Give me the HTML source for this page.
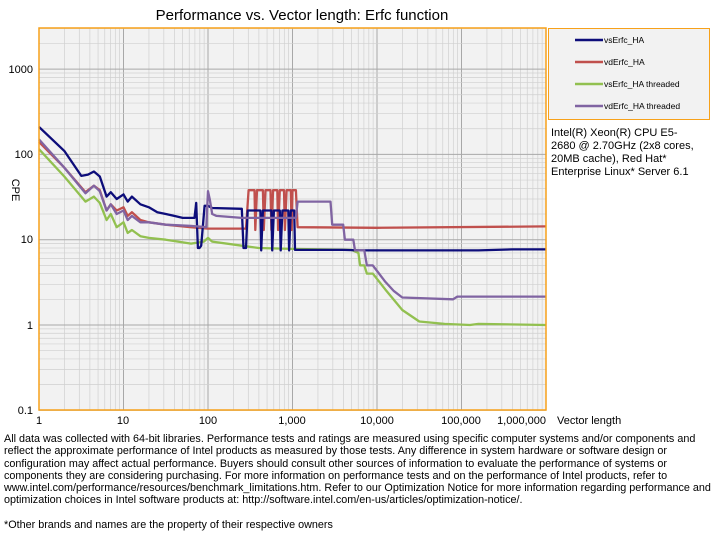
<!DOCTYPE html>
<html><head><meta charset="utf-8"><style>
body{margin:0;background:#fff;width:712px;height:546px;overflow:hidden;font-family:"Liberation Sans",sans-serif}
.foot{position:absolute;left:4px;top:433px;font-size:10.8px;line-height:12.3px;color:#000;width:712px;white-space:nowrap}
</style></head><body>
<svg width="712" height="546" style="position:absolute;left:0;top:0" font-family="Liberation Sans, sans-serif">
<text x="302" y="20" font-size="15" text-anchor="middle">Performance vs. Vector length: Erfc function</text>
<rect x="39" y="28" width="507" height="382" fill="#f2f2f2"/>
<g id="grid"></g>
<g id="series" fill="none" stroke-width="2.3" stroke-linejoin="round"></g>
<rect x="39" y="28" width="507" height="382" fill="none" stroke="#f7a11a" stroke-width="1.5"/>
<g font-size="11" text-anchor="end">
<text x="33" y="73">1000</text><text x="33" y="158">100</text><text x="33" y="243">10</text><text x="33" y="329">1</text><text x="33" y="414">0.1</text>
</g>
<g font-size="11" text-anchor="middle">
<text x="39" y="424">1</text><text x="123" y="424">10</text><text x="208" y="424">100</text><text x="292" y="424">1,000</text><text x="377" y="424">10,000</text><text x="461" y="424">100,000</text>
</g>
<text x="546" y="424" font-size="11" text-anchor="end">1,000,000</text>
<text x="557" y="424" font-size="11">Vector length</text>
<text x="12" y="190" font-size="11" transform="rotate(90 12 190)" text-anchor="middle">CPE</text>
<rect x="548.5" y="28.5" width="161" height="91" fill="#f2f2f2" stroke="#f7a11a" stroke-width="1"/>
<g stroke-width="2.5">
<line x1="575" y1="40" x2="603" y2="40" stroke="#0d0d7a"/>
<line x1="575" y1="62" x2="603" y2="62" stroke="#c0504d"/>
<line x1="575" y1="84" x2="603" y2="84" stroke="#92c050"/>
<line x1="575" y1="106" x2="603" y2="106" stroke="#8064a2"/>
</g>
<g font-size="8.5">
<text x="604" y="43">vsErfc_HA</text><text x="604" y="65">vdErfc_HA</text><text x="604" y="87">vsErfc_HA threaded</text><text x="604" y="109">vdErfc_HA threaded</text>
</g>
<g font-size="11">
<text x="551" y="136">Intel(R) Xeon(R) CPU E5-</text>
<text x="551" y="149">2680 @ 2.70GHz (2x8 cores,</text>
<text x="551" y="162">20MB cache), Red Hat*</text>
<text x="551" y="175">Enterprise Linux* Server 6.1</text>
</g>
</svg>
<div class="foot">All data was collected with 64-bit libraries. Performance tests and ratings are measured using specific computer systems and/or components and<br>reflect the approximate performance of Intel products as measured by those tests. Any difference in system hardware or software design or<br>configuration may affect actual performance. Buyers should consult other sources of information to evaluate the performance of systems or<br>components they are considering purchasing. For more information on performance tests and on the performance of Intel products, refer to<br>www.intel.com/performance/resources/benchmark_limitations.htm. Refer to our Optimization Notice for more information regarding performance and<br>optimization choices in Intel software products at: http://software.intel.com/en-us/articles/optimization-notice/.<br><br>*Other brands and names are the property of their respective owners</div>
<script>
function X(L){return 39+84.5*L}
function Y(v){return 325-85.3*Math.log10(v)}
var g=document.getElementById('grid'),s="";
for(var d=0;d<6;d++)for(var k=1;k<10;k++){var x=X(d+Math.log10(k));s+='<line x1="'+x+'" x2="'+x+'" y1="28" y2="410" stroke="'+(k==1?'#a8a8a8':'#d0d0d0')+'" stroke-width="'+(k==1?1:0.7)+'"/>';}
for(var d=-1;d<4;d++)for(var k=1;k<10;k++){var v=Math.pow(10,d)*k,y=Y(v);if(y<28)continue;s+='<line x1="39" x2="546" y1="'+y+'" y2="'+y+'" stroke="'+(k==1?'#a8a8a8':'#d0d0d0')+'" stroke-width="'+(k==1?1:0.7)+'"/>';}
g.innerHTML=s;
function path(pts,c){var d="";pts.forEach(function(p,i){d+=(i?"L":"M")+X(p[0]).toFixed(1)+","+Y(p[1]).toFixed(1)});return '<path d="'+d+'" stroke="'+c+'"/>'}
var blue=[[0,210],[0.3,110],[0.5,56],[0.58,58],[0.65,63],[0.72,55],[0.8,32],[0.85,36],[0.92,30],[1,34],[1.05,28],[1.1,32],[1.2,26],[1.3,24],[1.4,21],[1.5,20],[1.6,19],[1.7,18],[1.84,18],[1.86,27],[1.88,8],[1.9,8],[1.92,8.5],[1.96,25],[2.0,25],[2.05,23.5],[2.4,23],[2.42,8],[2.45,8],[2.47,22],[2.62,22],[2.63,7.5],[2.65,22],[2.75,22],[2.76,7.5],[2.78,22],[2.85,22],[2.86,7.5],[2.88,22],[2.95,22],[2.96,7.5],[2.98,22],[3.02,22],[3.03,7.6],[3.6,7.6],[3.8,7.5],[5.2,7.5],[5.6,7.7],[6,7.7]];
var red=[[0,140],[0.3,70],[0.55,36],[0.65,43],[0.72,38],[0.8,22],[0.85,26],[0.92,22],[1,24],[1.05,19],[1.1,21],[1.2,17],[1.3,16],[1.5,15],[1.8,14],[2.0,13.5],[2.45,13.5],[2.48,38],[2.55,38],[2.56,13],[2.58,38],[2.65,38],[2.66,13],[2.68,38],[2.74,38],[2.75,13],[2.77,38],[2.82,38],[2.83,13],[2.85,38],[2.9,38],[2.91,13],[2.93,38],[2.98,38],[2.99,13],[3.0,38],[3.04,38],[3.06,14],[4,13.8],[6,14.3]];
var green=[[0,115],[0.3,55],[0.55,28],[0.65,32],[0.72,27],[0.8,17],[0.85,20],[0.92,14],[1,16],[1.05,12],[1.1,13],[1.2,11],[1.3,10.5],[1.5,10],[1.8,9],[1.95,9.5],[2.0,10.5],[2.05,9.5],[2.4,8.5],[2.6,8],[3.0,7.8],[3.7,7.6],[3.78,7],[3.8,5],[3.85,5],[3.88,4],[3.95,4],[4.1,2.6],[4.3,1.5],[4.5,1.1],[4.8,1.03],[5.1,1.0],[5.2,1.03],[6,1.0]];
var purple=[[0,150],[0.3,70],[0.55,35],[0.65,43],[0.72,37],[0.8,22],[0.85,26],[0.92,20],[1,22],[1.05,17],[1.1,19],[1.2,16],[1.3,16],[1.5,15],[1.8,14.5],[1.98,14],[2.0,37],[2.02,30],[2.05,20],[2.1,19],[2.4,18],[3.04,18],[3.06,28],[3.45,28],[3.47,15],[3.6,15],[3.62,10],[3.72,10],[3.74,7.5],[3.85,7.5],[3.88,5],[3.95,5],[4.1,3.2],[4.2,2.5],[4.3,2.1],[4.9,2.0],[4.95,2.15],[6,2.15]];
document.getElementById('series').innerHTML=path(green,'#92c050')+path(red,'#c0504d')+path(blue,'#0d0d7a')+path(purple,'#8064a2');
</script>
</body></html>
